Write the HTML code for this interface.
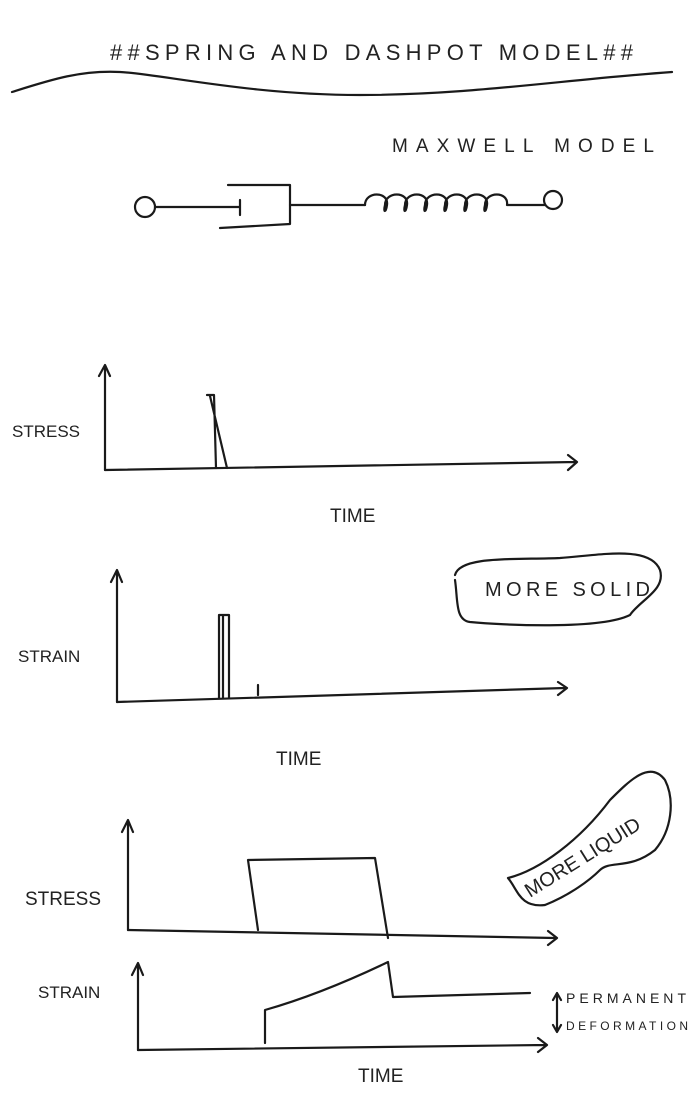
<!DOCTYPE html>
<html><head><style>
html,body{margin:0;padding:0;background:#fff;width:692px;height:1093px;overflow:hidden}
text{font-family:"Liberation Sans",sans-serif;fill:#222}
</style></head><body>
<svg width="692" height="1093" viewBox="0 0 692 1093" xmlns="http://www.w3.org/2000/svg" fill="none" stroke="#1a1a1a" stroke-width="2.2" stroke-linecap="round" stroke-linejoin="round">
<text x="110" y="60" font-size="22" stroke="none" textLength="525" letter-spacing="2">##SPRING AND DASHPOT MODEL##</text>
<path d="M12 92 C50 80 80 70 120 72 S250 95 360 95 S560 80 672 72"/>
<text x="392" y="152" font-size="19" stroke="none" textLength="262">MAXWELL MODEL</text>
<circle cx="145" cy="207" r="10"/>
<path d="M155 207 H240 M240 200 V215"/>
<path d="M228 185 H290 V224 L220 228"/>
<path d="M290 205 H365"/>
<path d="M365 205 c0 -14 24 -14 22 0 c-1 8 -4 8 -2 0 c0 -14 24 -14 22 0 c-1 8 -4 8 -2 0 c0 -14 24 -14 22 0 c-1 8 -4 8 -2 0 c0 -14 24 -14 22 0 c-1 8 -4 8 -2 0 c0 -14 24 -14 22 0 c-1 8 -4 8 -2 0 c0 -14 24 -14 22 0 c-1 8 -4 8 -2 0 c0 -14 24 -14 22 0 H545"/>
<circle cx="553" cy="200" r="9"/>
<!-- graph 1 -->
<path d="M105 470 V367 M99 376 L105 365 L110 376"/>
<path d="M105 470 L575 462 M568 455 L577 462 L568 470"/>
<path d="M207 395 L214 395 L216 468 M210 396 L227 468"/>
<text x="12" y="437" font-size="17" stroke="none">STRESS</text>
<text x="330" y="522" font-size="19" stroke="none">TIME</text>
<!-- graph 2 -->
<path d="M117 702 V572 M111 582 L117 570 L122 582"/>
<path d="M117 702 L565 688 M558 682 L567 688 L558 695"/>
<path d="M219 698 V615 H229 V698 M223 615 V698 M258 685 V695"/>
<text x="18" y="662" font-size="17" stroke="none">STRAIN</text>
<text x="276" y="765" font-size="19" stroke="none">TIME</text>
<path d="M455 575 C460 555 520 560 560 558 C600 555 650 545 660 570 C666 590 640 600 630 615 C600 630 500 625 470 622 C455 620 458 600 455 580"/>
<text x="485" y="596" font-size="20" stroke="none" textLength="165">MORE SOLID</text>
<!-- graph 3 -->
<path d="M128 930 V822 M122 832 L128 820 L133 832"/>
<path d="M128 930 L555 938 M548 931 L557 938 L548 945"/>
<path d="M258 930 L248 860 L375 858 L388 938"/>
<text x="25" y="905" font-size="19" stroke="none">STRESS</text>
<path d="M508 878 C540 870 580 840 610 800 C630 780 650 760 665 780 C675 800 672 830 655 850 C630 870 610 860 600 870 C590 880 570 895 545 905 C520 908 518 890 508 878"/>
<text x="0" y="0" font-size="20" stroke="none" transform="translate(530 898) rotate(-32)">MORE LIQUID</text>
<!-- graph 4 -->
<path d="M138 1050 V965 M132 975 L138 963 L143 975"/>
<path d="M138 1050 L545 1045 M538 1038 L547 1045 L538 1052"/>
<path d="M265 1043 V1010 C300 1000 340 985 388 962 L393 997 L530 993"/>
<text x="38" y="998" font-size="17" stroke="none">STRAIN</text>
<path d="M557 1030 V995 M553 1000 L557 993 L561 1000 M553 1025 L557 1032 L561 1025"/>
<text x="566" y="1003" font-size="14" stroke="none" textLength="120">PERMANENT</text>
<text x="566" y="1030" font-size="12" stroke="none" textLength="122">DEFORMATION</text>
<text x="358" y="1082" font-size="19" stroke="none">TIME</text>
</svg>
</body></html>
